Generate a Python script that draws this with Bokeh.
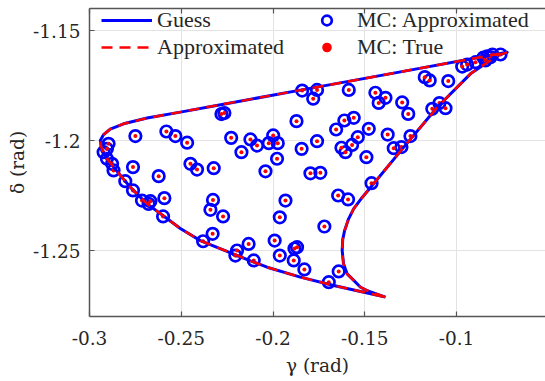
from bokeh.plotting import figure
from bokeh.models import Range1d, LinearAxis, Legend, LegendItem, FixedTicker, CustomJSTickFormatter
from bokeh.embed import file_html
from bokeh.resources import INLINE

# ---- data ----
curve_gamma = [-0.1387, -0.1487, -0.1523, -0.1560, -0.1596, -0.1616, -0.1623, -0.1620, -0.1610,
               -0.1590, -0.1560, -0.1520, -0.1480, -0.1287, -0.1105, -0.0924, -0.0778, -0.0724,
               -0.1305, -0.1851, -0.2270, -0.2505, -0.2686, -0.2814, -0.2887, -0.2923, -0.2941,
               -0.2936, -0.2923, -0.2869, -0.2778, -0.2686, -0.2596, -0.2505, -0.2396, -0.2305,
               -0.2214, -0.2123, -0.2032, -0.1851, -0.1669, -0.1523, -0.1387]
curve_delta = [-1.2712, -1.2682, -1.2667, -1.2636, -1.2606, -1.2560, -1.2500, -1.2450, -1.2410,
               -1.2360, -1.2310, -1.2265, -1.2225, -1.2030, -1.1849, -1.1697, -1.1614, -1.1599,
               -1.1688, -1.1771, -1.1835, -1.1871, -1.1898, -1.1924, -1.1948, -1.1973, -1.2000,
               -1.2030, -1.2060, -1.2121, -1.2212, -1.2288, -1.2343, -1.2400, -1.2455, -1.2486,
               -1.2516, -1.2547, -1.2576, -1.2621, -1.2659, -1.2686, -1.2712]

mc_gamma = [-0.2265, -0.2281, -0.2750, -0.2581, -0.2532, -0.2468, -0.2228, -0.2123, -0.2087, -0.2172,
            -0.1999, -0.2023, -0.1974, -0.1978, -0.2041, -0.2450, -0.2414, -0.2323, -0.2763, -0.2623,
            -0.2592, -0.2327, -0.2341, -0.2272, -0.2329, -0.2381, -0.2196, -0.2205, -0.2133, -0.1991,
            -0.2105, -0.1963, -0.1963, -0.2896, -0.2923, -0.2905, -0.2905, -0.2877, -0.2869, -0.2805,
            -0.2763, -0.2714, -0.2668, -0.2678, -0.2599, -0.1932, -0.1887, -0.1869, -0.1883, -0.1829,
            -0.1720, -0.1696, -0.1642, -0.1841, -0.1760, -0.1781, -0.1587, -0.1442, -0.1387, -0.1424,
            -0.1296, -0.1263, -0.1173, -0.1146, -0.1045, -0.0969, -0.0942, -0.0896, -0.0842, -0.0833,
            -0.0815, -0.0760, -0.1132, -0.1093, -0.1060, -0.1872, -0.1656, -0.1611, -0.1560, -0.1478,
            -0.1844, -0.1760, -0.1627, -0.1605, -0.1569, -0.1538, -0.1375, -0.1342, -0.1300, -0.1251,
            -0.1491, -0.1796, -0.1742, -0.1463, -0.1645, -0.1591, -0.0853, -0.0804]
mc_delta = [-1.1875, -1.1880, -1.1980, -1.1959, -1.1980, -1.2010, -1.1988, -1.1995, -1.2023, -1.2053,
            -1.1977, -1.2012, -1.2012, -1.2083, -1.2140, -1.2106, -1.2132, -1.2126, -1.2121, -1.2162,
            -1.2262, -1.2270, -1.2315, -1.2345, -1.2424, -1.2458, -1.2500, -1.2523, -1.2470, -1.2455,
            -1.2545, -1.2349, -1.2523, -1.2015, -1.2053, -1.2038, -1.2083, -1.2106, -1.2136, -1.2185,
            -1.2227, -1.2273, -1.2276, -1.2288, -1.2345, -1.2273, -1.2545, -1.2485, -1.2491, -1.2586,
            -1.2391, -1.2644, -1.2595, -1.1773, -1.1770, -1.1810, -1.1770, -1.1783, -1.1806, -1.1829,
            -1.1827, -1.1879, -1.1712, -1.1727, -1.1730, -1.1664, -1.1655, -1.1644, -1.1636, -1.1618,
            -1.1621, -1.1609, -1.1856, -1.1830, -1.1853, -1.1912, -1.1950, -1.1909, -1.1897, -1.1947,
            -1.2038, -1.2003, -1.2033, -1.2053, -1.2020, -1.1985, -1.1973, -1.2035, -1.2030, -1.1980,
            -1.2076, -1.2149, -1.2147, -1.2194, -1.2250, -1.2268, -1.1623, -1.1609]

x_ticks = [-0.3, -0.25, -0.2, -0.15, -0.1]
y_ticks = [-1.25, -1.2, -1.15]
x_label = "γ (rad)"
y_label = "δ (rad)"

AXFONT = "DejaVu Serif"
AXFS = "18.5px"
LEGFONT = "'Liberation Serif', 'Times New Roman', serif"
LEGFS = "22px"
AX = "#555555"
TXT = "#262626"

p = figure(width=545, height=381, output_backend="svg", toolbar_location=None,
           x_range=Range1d(-0.3, -0.0515), y_range=Range1d(-1.28, -1.14),
           min_border_left=89, min_border_right=0, min_border_top=8, min_border_bottom=65)
p.outline_line_color = None
p.background_fill_color = "white"

fmt = CustomJSTickFormatter(code="return String(Math.round(tick*1000)/1000);")

for ax in (p.xaxis[0], p.yaxis[0]):
    ax.formatter = fmt
    ax.major_tick_in = 5
    ax.major_tick_out = 0
    ax.minor_tick_line_color = None
    ax.axis_line_color = AX
    ax.axis_line_width = 1.5
    ax.major_tick_line_color = AX
    ax.major_tick_line_width = 1.2
    ax.major_label_text_color = TXT
    ax.major_label_text_font = AXFONT
    ax.major_label_text_font_size = AXFS
    ax.axis_label_text_font = AXFONT
    ax.axis_label_text_font_size = AXFS
    ax.axis_label_text_font_style = "normal"
    ax.axis_label_text_color = TXT

p.xaxis[0].ticker = FixedTicker(ticks=x_ticks)
p.yaxis[0].ticker = FixedTicker(ticks=y_ticks)
p.xaxis[0].axis_label = x_label
p.yaxis[0].axis_label = y_label
p.xaxis[0].major_label_standoff = 14
p.xaxis[0].axis_label_standoff = 7
p.yaxis[0].major_label_standoff = 9
p.yaxis[0].axis_label_standoff = 2

top = LinearAxis(ticker=FixedTicker(ticks=x_ticks),
                 formatter=CustomJSTickFormatter(code="return '';"),
                 major_label_text_font_size="1px", major_label_text_color=None,
                 major_tick_in=5, major_tick_out=0, minor_tick_line_color=None,
                 axis_line_color=AX, axis_line_width=1.5, major_tick_line_color=AX,
                 major_tick_line_width=1.2, major_label_standoff=0)
p.add_layout(top, "above")

p.grid.grid_line_color = "#e3e3e3"
p.grid.grid_line_width = 1

circ = p.scatter(mc_gamma, mc_delta, size=11.5, marker="circle", fill_color=None,
                 line_color="#0000ff", line_width=2.7)
dots = p.scatter(mc_gamma, mc_delta, size=4, marker="circle", fill_color="#ff0000",
                 line_color=None)
guess = p.line(curve_gamma, curve_delta, line_color="#0000ff", line_width=3, line_join="round")
approx = p.line(curve_gamma, curve_delta, line_color="#ff0000", line_width=2.5,
                line_dash="11 7", line_join="round")

def mk_legend(items, loc):
    lg = Legend(items=items, location=loc, border_line_color=None, background_fill_alpha=0,
                glyph_width=51, glyph_height=24, label_height=24, label_standoff=5, spacing=1,
                padding=0, margin=0, label_text_font=LEGFONT, label_text_font_size=LEGFS,
                label_text_color=TXT)
    return lg

leg1 = mk_legend([LegendItem(label="Guess", renderers=[guess]),
                  LegendItem(label="Approximated", renderers=[approx])], (12, 256))
leg2 = mk_legend([LegendItem(label="MC: Approximated", renderers=[circ]),
                  LegendItem(label="MC: True", renderers=[dots])], (212, 256))
p.add_layout(leg1, "center")
p.add_layout(leg2, "center")

open("out.html", "w").write(file_html(p, INLINE))
